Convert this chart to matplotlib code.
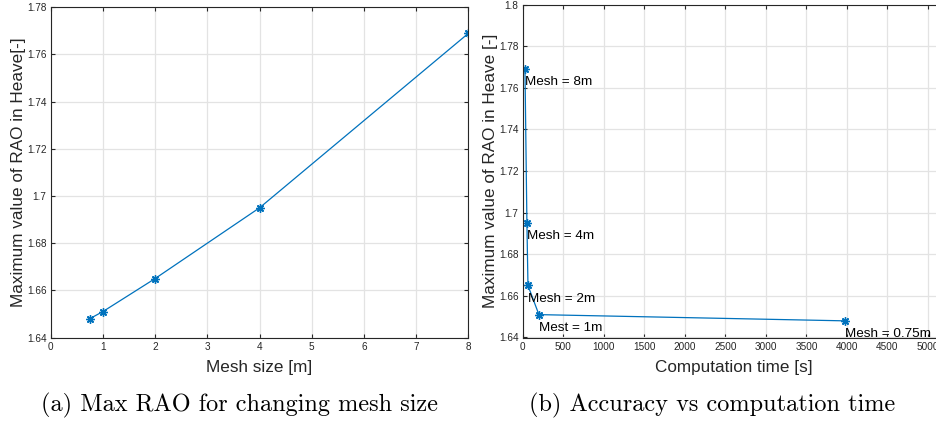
import matplotlib
matplotlib.use("Agg")
import matplotlib.pyplot as plt
from matplotlib.ticker import FuncFormatter, MultipleLocator

# Mesh convergence data
mesh_size = [0.75, 1, 2, 4, 8]
max_rao = [1.648, 1.651, 1.665, 1.695, 1.769]
comp_time = [3980, 200, 65, 52, 28]
point_labels = ["Mesh = 0.75m", "Mest = 1m", "Mesh = 2m", "Mesh = 4m", "Mesh = 8m"]

BLUE = "#0072BD"
TICK_COL = "#262626"
SANS = ["Liberation Sans", "DejaVu Sans"]
W, H = 937, 423

plt.rcParams["font.family"] = SANS

fig = plt.figure(figsize=(W / 100, H / 100), dpi=100)

ASTERISK = (8, 2, 0)


def px_axes(x0, x1, y0, y1):
    return fig.add_axes([x0 / W, 1 - y1 / H, (x1 - x0) / W, (y1 - y0) / H])


def style(ax):
    ax.grid(True, color="#e3e3e3", linewidth=0.9)
    ax.set_axisbelow(True)
    ax.tick_params(direction="in", length=3, width=0.8, top=True, right=True,
                   labelsize=7.2, colors=TICK_COL, pad=3)
    for s in ax.spines.values():
        s.set_color(TICK_COL)
        s.set_linewidth(0.8)
    fmt = FuncFormatter(lambda v, p: f"{v:g}")
    ax.yaxis.set_major_formatter(fmt)
    ax.xaxis.set_major_formatter(fmt)


# (a) max RAO vs mesh size
ax1 = px_axes(50.7, 468.5, 7.3, 337.5)
ax1.plot(mesh_size, max_rao, color=BLUE, marker=ASTERISK, markersize=6,
         markeredgewidth=1.0, linewidth=0.9)
ax1.set_xlim(0, 8)
ax1.set_ylim(1.64, 1.78)
ax1.xaxis.set_major_locator(MultipleLocator(1))
ax1.yaxis.set_major_locator(MultipleLocator(0.02))
style(ax1)
ax1.set_xlabel("Mesh size [m]", fontsize=12.3, color=TICK_COL, labelpad=6)
ax1.set_ylabel("Maximum value of RAO in Heave[-]", fontsize=12.3, color=TICK_COL, labelpad=1)

# (b) accuracy vs computation time
x_left, x_5000, x_right = 522.7, 928.0, 945.0
ax2 = px_axes(x_left, x_right, 4.7, 337.5)
ax2.plot(comp_time, max_rao, color=BLUE, marker=ASTERISK, markersize=6,
         markeredgewidth=1.0, linewidth=0.9)
ax2.set_xlim(0, 5000 * (x_right - x_left) / (x_5000 - x_left))
ax2.set_ylim(1.64, 1.80)
ax2.xaxis.set_major_locator(MultipleLocator(500))
ax2.yaxis.set_major_locator(MultipleLocator(0.02))
style(ax2)
ax2.spines["right"].set_visible(False)
ax2.set_xlabel("Computation time [s]", fontsize=12.3, color=TICK_COL, labelpad=6)
ax2.set_ylabel("Maximum value of RAO in Heave [-]", fontsize=12.3, color=TICK_COL, labelpad=1)
for t, v, lab in zip(comp_time, max_rao, point_labels):
    ax2.annotate(lab, (t, v), xytext=(0, -9.5), textcoords="offset points",
                 ha="left", va="center", fontsize=9.7, color="black")

# Captions
fig.text(240 / W, 1 - 405 / H, "(a) Max RAO for changing mesh size",
         ha="center", va="center", fontsize=17.5, family="cmr10")
fig.text(712 / W, 1 - 405 / H, "(b) Accuracy vs computation time",
         ha="center", va="center", fontsize=17.5, family="cmr10")

fig.savefig("out.png", dpi=100)
